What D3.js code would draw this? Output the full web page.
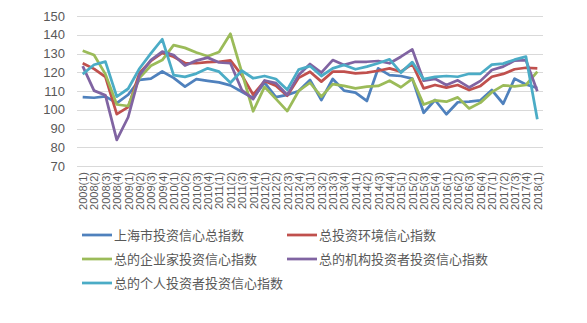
<!DOCTYPE html>
<html>
<head>
<meta charset="utf-8">
<script src="https://cdn.jsdelivr.net/npm/d3@7"></script>
<style>
  body { margin: 0; background: #fff; }
  svg text { font-family: "Liberation Sans", "Noto Sans CJK SC", sans-serif; fill: #595959; }
  .legend text { font-family: "Noto Sans CJK SC", sans-serif; }
</style>
</head>
<body>
<div id="chart"></div>
<script>
// quarters 2008(1) .. 2018(1)
var quarters = [];
for (var yr = 2008; yr <= 2018; yr++) {
  for (var q = 1; q <= 4; q++) {
    if (yr === 2018 && q > 1) break;
    quarters.push(yr + '(' + q + ')');
  }
}

var yTicks = [70, 80, 90, 100, 110, 120, 130, 140, 150];

var seriesNames = ['上海市投资信心总指数', '总投资环境信心指数', '总的企业家投资信心指数', '总的机构投资者投资信心指数', '总的个人投资者投资信心指数'];
var seriesColors = ['#4F81BD', '#C0504D', '#9BBB59', '#8064A2', '#4BACC6'];

var totalIndex = [106.7, 106.4, 107.1, 103.5, 108, 115.9, 116.6, 120.4, 117, 112.3, 116.3, 115.4, 114.6, 113, 109.6, 106.3, 114.5, 106.7, 107.9, 110, 115.9, 105.2, 116.4, 110.2, 109.1, 104.7, 122.1, 118.5, 118, 116.6, 98.4, 105.2, 97.6, 104, 104.3, 105, 110.5, 103.2, 116.6, 113.5, 111.6];
var envIndex = [124.8, 121.8, 117.5, 97.7, 101.4, 119.6, 126, 130.3, 128.3, 124.9, 124.8, 125.4, 125.6, 126.3, 118.5, 108, 115.3, 112.8, 107.5, 117, 120.3, 115, 120.3, 120.3, 119.4, 119.8, 120.8, 122.1, 120.3, 124.4, 111.4, 113.2, 111.8, 113.2, 110.5, 112.7, 117.6, 119.1, 121.6, 122.4, 122.1];
var entrepreneurIndex = [131.5, 129.2, 119, 102.8, 102, 117, 123.5, 126.5, 134.5, 133, 130.5, 128.5, 130.8, 140.5, 120, 99.2, 112.2, 105.8, 99.3, 110, 114.4, 107, 113.7, 112.7, 111.4, 112.3, 112.7, 115.5, 112, 116.5, 102.8, 105, 104.3, 106.6, 100.7, 103.8, 109.4, 113, 112.5, 113.2, 120.3];
var institutionIndex = [123.3, 110.2, 107.7, 83.9, 96, 118.5, 126.5, 131, 129.2, 123.6, 126.2, 127.8, 125.2, 124.8, 110.5, 105.7, 115.6, 114.2, 107.9, 118.5, 124.4, 119.8, 126.5, 123.9, 125.6, 125.6, 126, 124.8, 128.3, 132.2, 115.5, 116.5, 113.2, 115.7, 111.9, 115.4, 121.2, 123, 126.2, 126.4, 109.9];
var individualIndex = [119, 124, 125.7, 107, 111.2, 122, 130.1, 137.6, 118.5, 117.5, 119.3, 122.1, 120.3, 114.4, 120.8, 116.8, 118, 116.4, 110.7, 121.4, 123.3, 118, 122.1, 123.9, 121.6, 123, 124.8, 126.9, 119.8, 125.4, 116.3, 117.5, 118, 117.6, 119.2, 119.2, 124.1, 124.6, 126.7, 128.3, 94.9];

var seriesValues = [totalIndex, envIndex, entrepreneurIndex, institutionIndex, individualIndex];

var width = 587, height = 323;
var plotLeft = 77, plotRight = 543, plotTop = 16, plotBottom = 166;

var svg = d3.select('#chart').append('svg').attr('width', width).attr('height', height);

var x = d3.scalePoint().domain(quarters).range([plotLeft, plotRight]).padding(0.5);
var yScale = d3.scaleLinear().domain([70, 150]).range([plotBottom, plotTop]);

// gridlines
svg.append('g').selectAll('line').data(yTicks).enter().append('line')
  .attr('x1', plotLeft).attr('x2', plotRight)
  .attr('y1', function (d) { return Math.round(yScale(d)) + 0.5; })
  .attr('y2', function (d) { return Math.round(yScale(d)) + 0.5; })
  .attr('stroke', '#d9d9d9').attr('stroke-width', 1);

// y axis labels
var yAxis = d3.axisLeft(yScale).tickValues(yTicks).tickSize(0).tickPadding(12);
var yg = svg.append('g').attr('transform', 'translate(' + plotLeft + ',0)').call(yAxis);
yg.select('.domain').remove();
yg.selectAll('text').style('font-size', '13px').style('font-family', '"Liberation Sans", sans-serif').attr('fill', '#595959');

// x axis labels, rotated
var xAxis = d3.axisBottom(x).tickSize(0).tickPadding(0);
var xg = svg.append('g').attr('transform', 'translate(0,' + plotBottom + ')').call(xAxis);
xg.select('.domain').remove();
xg.selectAll('text')
  .style('font-size', '11px')
  .attr('fill', '#595959')
  .attr('text-anchor', 'end')
  .attr('dy', '0.35em')
  .attr('transform', 'translate(0,6) rotate(-90)')
  .attr('x', 0).attr('y', 0);

// lines
var line = d3.line()
  .x(function (d, i) { return x(quarters[i]); })
  .y(function (d) { return yScale(d); });

seriesValues.forEach(function (vals, k) {
  svg.append('path').datum(vals)
    .attr('d', line)
    .attr('fill', 'none')
    .attr('stroke', seriesColors[k])
    .attr('stroke-width', 2.75)
    .attr('stroke-linejoin', 'round');
});

// legend
var legendPos = [[82, 235], [287, 235], [82, 259], [287, 259], [82, 283]];
var legend = svg.append('g').attr('class', 'legend');
seriesNames.forEach(function (name, k) {
  var p = legendPos[k];
  legend.append('line')
    .attr('x1', p[0]).attr('x2', p[0] + 30)
    .attr('y1', p[1]).attr('y2', p[1])
    .attr('stroke', seriesColors[k]).attr('stroke-width', 2.75);
  legend.append('text')
    .attr('x', p[0] + 32).attr('y', p[1])
    .attr('dy', '0.35em')
    .style('font-size', '13px')
    .text(name);
});
</script>
</body>
</html>
